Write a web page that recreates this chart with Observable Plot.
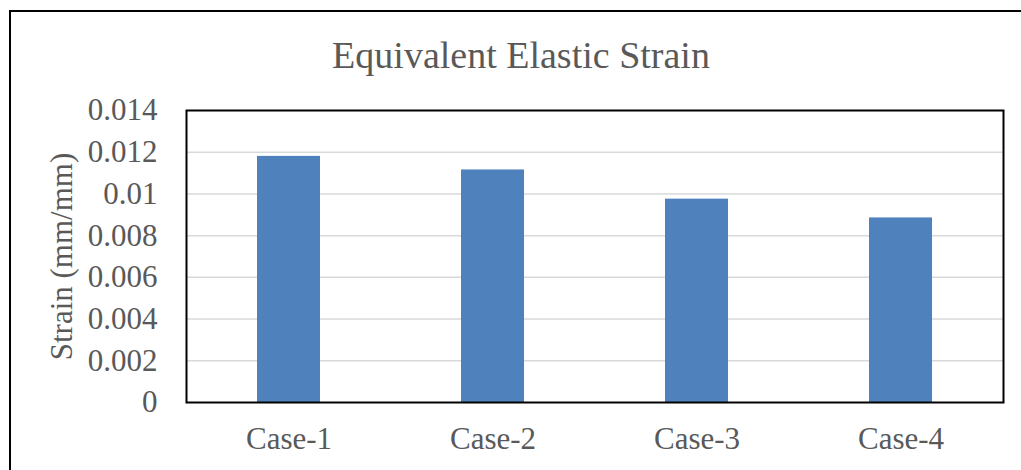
<!DOCTYPE html>
<html>
<head>
<meta charset="utf-8">
<script src="https://cdn.jsdelivr.net/npm/d3@7"></script>
<script src="https://cdn.jsdelivr.net/npm/@observablehq/plot@0.6"></script>
<style>
  html, body { margin: 0; padding: 0; background: #fff; }
  #wrap { position: relative; width: 1021px; height: 470px; overflow: hidden; font-family: 'Liberation Serif'; }
  #border { position: absolute; left: 9px; top: 10px; width: 1040px; height: 500px; border: 2px solid #000; box-sizing: border-box; pointer-events: none; }
</style>
</head>
<body>
<div id="wrap"><div id="border"></div></div>
<script>
const title = "Equivalent Elastic Strain";
const yLabel = "Strain (mm/mm)";
const cases = ["Case-1", "Case-2", "Case-3", "Case-4"];
const strain = [0.0118, 0.01115, 0.00975, 0.00885];
const yTicks = [0, 0.002, 0.004, 0.006, 0.008, 0.01, 0.012, 0.014];
const yTickLabels = ["0", "0.002", "0.004", "0.006", "0.008", "0.01", "0.012", "0.014"];

const data = cases.map((c, i) => ({case: c, value: strain[i]}));
const grey = "#595959";

const chart = Plot.plot({
  width: 1021,
  height: 470,
  marginLeft: 186,
  marginRight: 18,
  marginTop: 110,
  marginBottom: 68,
  style: "font-family: 'Liberation Serif'; color: #595959; background: transparent; overflow: visible;",
  x: {domain: cases, paddingInner: 0.69, paddingOuter: 0.345, label: null},
  y: {domain: [0, 0.014], label: null},
  marks: [
    Plot.gridY(yTicks.slice(1, -1), {stroke: "#d9d9d9", strokeOpacity: 1, strokeWidth: 1.5}),
    Plot.barY(data, {x: "case", y: "value", fill: "#4F81BD"}),
    Plot.frame({stroke: "#000", strokeWidth: 2}),
    Plot.axisY({ticks: yTicks, tickFormat: d => yTickLabels[yTicks.indexOf(d)], tickSize: 0, tickPadding: 29, fontSize: 31, fill: grey, label: null}),
    Plot.axisX({tickSize: 0, tickPadding: 24, fontSize: 31, fill: grey, label: null}),
    Plot.text([title], {frameAnchor: "top", dx: -74, dy: -55, text: d => d, fontSize: 38, fill: grey, lineAnchor: "middle"}),
    Plot.text([yLabel], {frameAnchor: "left", dx: -124, rotate: -90, text: d => d, fontSize: 31, fill: grey, lineAnchor: "middle", textAnchor: "middle"})
  ]
});
d3.select(chart).selectAll("g, text").style("font-family", "'Liberation Serif'");
document.getElementById("wrap").prepend(chart);
</script>
</body>
</html>
